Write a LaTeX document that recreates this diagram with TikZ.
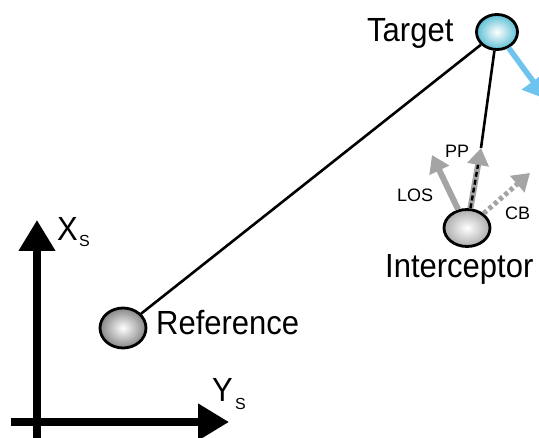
\documentclass[tikz,border=0pt]{standalone}
\usepackage{fontspec}
\setmainfont{Liberation Sans}
\usetikzlibrary{arrows.meta,shapes.geometric}
\definecolor{tblue}{HTML}{6EC4EE}
\definecolor{tcyan}{HTML}{5CBFD4}
\definecolor{agray}{HTML}{A4A4A4}
\newcommand{\tallt}[1]{\scalebox{1}[1.08]{#1}}
\begin{document}
\begin{tikzpicture}[x=1pt,y=-1pt,
  ballnode/.style={ellipse, draw=black, line width=2.8pt, inner sep=0pt},
  biglbl/.style={inner sep=0pt, anchor=base west, font=\fontsize{31}{36}\selectfont},
  sublbl/.style={inner sep=0pt, anchor=base west, font=\fontsize{16}{19}\selectfont},
  smalllbl/.style={inner sep=0pt, anchor=base west, font=\fontsize{18}{21}\selectfont},
  link/.style={draw=black, line width=2.6pt},
  grayarrow/.style={draw=agray, line width=6pt, -{Triangle[length=17pt,width=21pt]}},
  axisarrow/.style={draw=black, line width=7.5pt, -{Triangle[length=31pt,width=35pt]}}
]
\useasboundingbox (0,0) rectangle (539,438);

% balls
\node[ballnode, minimum width=41pt, minimum height=35pt,
      inner color=white, outer color=tcyan] (tgt) at (497,32) {};
\node[ballnode, minimum width=46pt, minimum height=40pt,
      inner color=white, outer color=gray!95] (ref) at (123,328) {};
\node[ballnode, minimum width=46pt, minimum height=37pt,
      inner color=white, outer color=gray!65] (int) at (467,228) {};

% labels
\node[biglbl] (tgtlbl) at (367,42) {\tallt{Target}};
\node[biglbl] (reflbl) at (156,335) {\tallt{Reference}};
\node[biglbl] (intlbl) at (385,278) {\tallt{Interceptor}};

% coordinates
\coordinate (bluetip) at (546,99);
\coordinate (lostip) at (432,155);
\coordinate (pptip) at (481,148);
\coordinate (cbtip) at (530,173);

% links
\draw[link] (tgt) -- (ref);
\draw[link] (tgt) -- (pptip);
\draw[draw=tblue, line width=5.5pt, -{Triangle[length=22pt,width=27pt]}] (tgt) -- (bluetip);

% interceptor arrows
\draw[grayarrow] (int) -- (lostip);
\draw[grayarrow] (int) -- (pptip);
\draw[draw=black, line width=2.4pt, dash pattern=on 5pt off 3pt, shorten >=17pt] (int) -- (pptip);
\draw[grayarrow, line width=5pt, dash pattern=on 4pt off 3pt] (int) -- (cbtip);

\node[smalllbl] (pplbl) at (445,158) {PP};
\node[smalllbl] (loslbl) at (397,202) {LOS};
\node[smalllbl] (cblbl) at (505,220) {CB};

% axes
\coordinate (xbot) at (37,440);
\coordinate (xtip) at (37,220);
\coordinate (yleft) at (11,422);
\coordinate (ytip) at (229,422);
\draw[axisarrow] (xbot) -- (xtip);
\draw[axisarrow] (yleft) -- (ytip);

\node[biglbl] (xlbl) at (57,241) {\tallt{X}};
\node[sublbl] (xsub) at (79,247) {S};
\node[biglbl] (ylbl) at (212,402) {\tallt{Y}};
\node[sublbl] (ysub) at (235,410) {S};
\end{tikzpicture}
\end{document}
